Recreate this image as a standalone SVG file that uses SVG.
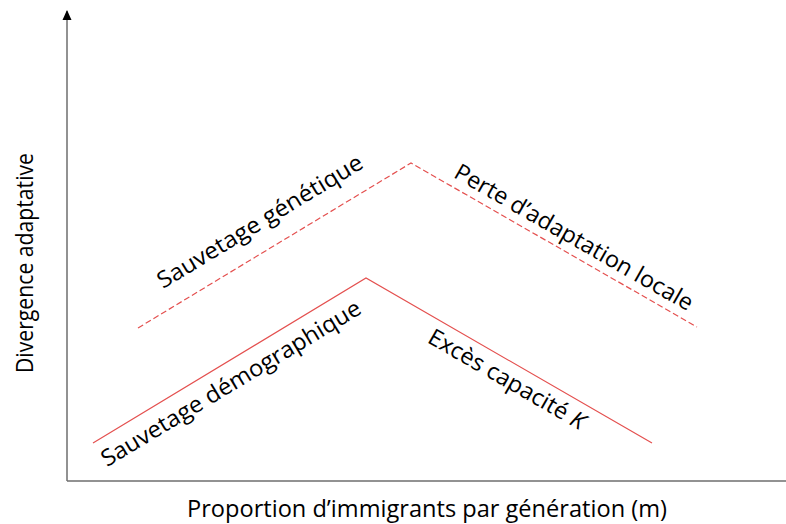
<svg xmlns="http://www.w3.org/2000/svg" width="786" height="524" viewBox="0 0 786 524">
<style>
.lbl{font-family:"Open Sans",Lato,"Liberation Sans",sans-serif;font-size:23px;fill:#000;text-anchor:middle}
.axis{stroke:#6e6e6e;stroke-width:1.5;fill:none}
.curve{stroke:#e4504f;stroke-width:1.2;fill:none}
.dash{stroke-dasharray:6 3}
</style>
<defs>
<marker id="arr" viewBox="0 0 10 10" refX="9" refY="5" markerWidth="10" markerHeight="10" markerUnits="userSpaceOnUse" orient="auto">
<path d="M0,0.5 L10,5 L0,9.5 Z" fill="#000"/>
</marker>
</defs>
<g id="axes">
<line class="axis" x1="67" y1="481" x2="786" y2="481"/>
<line class="axis" x1="67" y1="481" x2="67" y2="11" marker-end="url(#arr)"/>
<text class="lbl" x="427" y="517" textLength="480" lengthAdjust="spacingAndGlyphs">Proportion d’immigrants par génération (m)</text>
<text class="lbl" transform="translate(33,263) rotate(-90)" textLength="220" lengthAdjust="spacingAndGlyphs">Divergence adaptative</text>
</g>
<g id="connectors">
<polyline class="curve dash" points="138,328 411,163 697,327"/>
<polyline class="curve" points="93,443 366,278 652,443"/>
</g>
<g id="sauvetage-genetique">
<text class="lbl" transform="translate(264,228) rotate(-31.15)" textLength="236" lengthAdjust="spacingAndGlyphs">Sauvetage génétique</text>
</g>
<g id="sauvetage-demographique">
<text class="lbl" transform="translate(235,390) rotate(-31.15)" textLength="299" lengthAdjust="spacingAndGlyphs">Sauvetage démographique</text>
</g>
<g id="perte-adaptation">
<text class="lbl" transform="translate(570,244) rotate(29.8)" textLength="271" lengthAdjust="spacingAndGlyphs">Perte d’adaptation locale</text>
</g>
<g id="exces-capacite">
<text class="lbl" transform="translate(503,386) rotate(30)" textLength="177" lengthAdjust="spacingAndGlyphs">Excès capacité <tspan font-style="italic">K</tspan></text>
</g>
</svg>
